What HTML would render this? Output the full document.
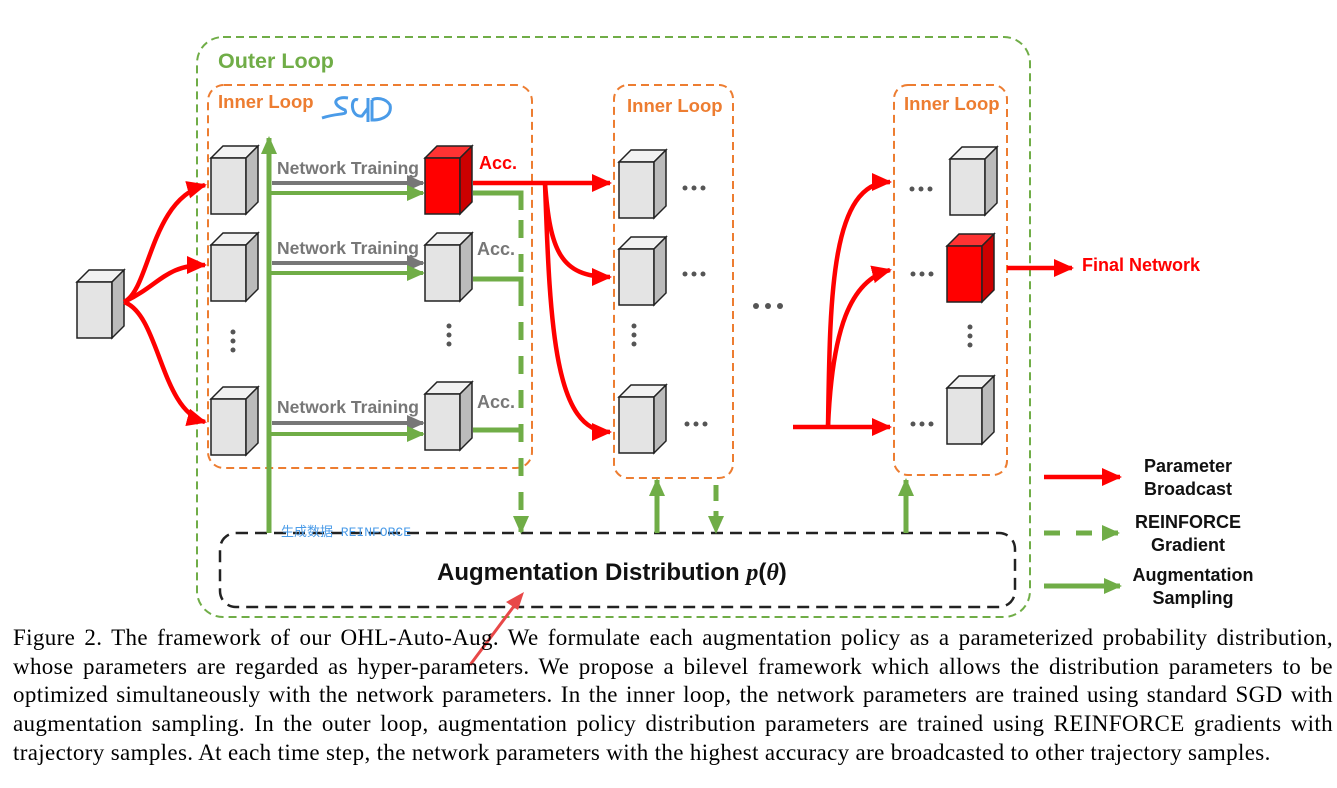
<!DOCTYPE html>
<html><head><meta charset="utf-8"><style>
body{margin:0;width:1337px;height:788px;background:#fff;position:relative;overflow:hidden}
svg{position:absolute;left:0;top:0}
.cap{position:absolute;left:13px;width:1320px;font-family:"Liberation Serif",serif;font-size:23px;letter-spacing:0.35px;line-height:28.7px;top:624px;color:#000}
.cap div{text-align:justify;text-align-last:justify;white-space:nowrap}
.cap div.l{text-align-last:left}
.b{font-family:"Liberation Sans",sans-serif;font-weight:bold}
</style></head><body>
<svg width="1337" height="788" viewBox="0 0 1337 788">
<defs>
<g id="cube"><polygon points="0,12 12,0 47,0 35,12" fill="#f2f2f2" stroke="#222" stroke-width="1.5"/><rect x="0" y="12" width="35" height="56" fill="#e4e4e4" stroke="#222" stroke-width="1.5"/><polygon points="35,12 47,0 47,56 35,68" fill="#bbb" stroke="#222" stroke-width="1.5"/></g>
<g id="rcube"><polygon points="0,12 12,0 47,0 35,12" fill="#f33" stroke="#222" stroke-width="1.5"/><rect x="0" y="12" width="35" height="56" fill="#f00" stroke="#222" stroke-width="1.5"/><polygon points="35,12 47,0 47,56 35,68" fill="#c00" stroke="#222" stroke-width="1.5"/></g>
<marker id="ar" markerUnits="userSpaceOnUse" markerWidth="20" markerHeight="18" refX="18" refY="9" orient="auto"><polygon points="0,0 20,9 0,18" fill="#f00"/></marker>
<marker id="ag" markerUnits="userSpaceOnUse" markerWidth="18" markerHeight="16" refX="16" refY="8" orient="auto"><polygon points="0,0 18,8 0,16" fill="#70ad47"/></marker>
<marker id="agy" markerUnits="userSpaceOnUse" markerWidth="18" markerHeight="16" refX="16" refY="8" orient="auto"><polygon points="0,0 18,8 0,16" fill="#777"/></marker>
</defs>
<rect x="197" y="37" width="833" height="580" rx="26" fill="none" stroke="#70ad47" stroke-width="2" stroke-dasharray="8,5"/>
<rect x="208" y="85" width="324" height="383" rx="16" fill="none" stroke="#ed7d31" stroke-width="2" stroke-dasharray="8,5"/>
<rect x="614" y="85" width="119" height="393" rx="14" fill="none" stroke="#ed7d31" stroke-width="2" stroke-dasharray="8,5"/>
<rect x="894" y="85" width="113" height="390" rx="14" fill="none" stroke="#ed7d31" stroke-width="2" stroke-dasharray="8,5"/>
<rect x="220" y="533" width="795" height="74" rx="16" fill="none" stroke="#222" stroke-width="2.5" stroke-dasharray="12,7"/>
<text x="218" y="68" class="b" font-size="21.5" fill="#70ad47">Outer Loop</text>
<text x="218" y="108" class="b" font-size="18.5" fill="#ed7d31">Inner Loop</text>
<text x="627" y="112" class="b" font-size="18.5" fill="#ed7d31">Inner Loop</text>
<text x="904" y="110" class="b" font-size="18.5" fill="#ed7d31">Inner Loop</text>
<path d="M322,118 C340,112 348,116 345,110 C330,104 335,96 348,98 M358,100 C350,96 350,118 362,116 L368,108 M368,98 L368,122 M372,100 L372,120 C385,120 392,114 390,105 C385,97 375,98 372,100" fill="none" stroke="#4a9be8" stroke-width="3"/>
<use href="#cube" x="77" y="270"/>
<use href="#cube" x="211" y="146"/><use href="#cube" x="211" y="233"/><use href="#cube" x="211" y="387"/>
<use href="#rcube" x="425" y="146"/><use href="#cube" x="425" y="233"/><use href="#cube" x="425" y="382"/>
<use href="#cube" x="619" y="150"/><use href="#cube" x="619" y="237"/><use href="#cube" x="619" y="385"/>
<use href="#cube" x="950" y="147"/><use href="#rcube" x="947" y="234"/><use href="#cube" x="947" y="376"/>
<g fill="#555">
<circle cx="233" cy="332" r="2.5"/><circle cx="233" cy="341" r="2.5"/><circle cx="233" cy="350" r="2.5"/>
<circle cx="449" cy="326" r="2.5"/><circle cx="449" cy="335" r="2.5"/><circle cx="449" cy="344" r="2.5"/>
<circle cx="634" cy="326" r="2.5"/><circle cx="634" cy="335" r="2.5"/><circle cx="634" cy="344" r="2.5"/>
<circle cx="970" cy="327" r="2.5"/><circle cx="970" cy="336" r="2.5"/><circle cx="970" cy="345" r="2.5"/>
<circle cx="685" cy="188" r="2.5"/><circle cx="694" cy="188" r="2.5"/><circle cx="703" cy="188" r="2.5"/>
<circle cx="685" cy="274" r="2.5"/><circle cx="694" cy="274" r="2.5"/><circle cx="703" cy="274" r="2.5"/>
<circle cx="687" cy="424" r="2.5"/><circle cx="696" cy="424" r="2.5"/><circle cx="705" cy="424" r="2.5"/>
<circle cx="912" cy="189" r="2.5"/><circle cx="921" cy="189" r="2.5"/><circle cx="930" cy="189" r="2.5"/>
<circle cx="913" cy="274" r="2.5"/><circle cx="922" cy="274" r="2.5"/><circle cx="931" cy="274" r="2.5"/>
<circle cx="913" cy="424" r="2.5"/><circle cx="922" cy="424" r="2.5"/><circle cx="931" cy="424" r="2.5"/>
<circle cx="756" cy="306" r="3"/><circle cx="768" cy="306" r="3"/><circle cx="780" cy="306" r="3"/>
</g>
<g fill="none" stroke="#f00" stroke-width="4.5">
<path d="M124,302 C150,290 150,200 205,185" marker-end="url(#ar)"/>
<path d="M124,302 C160,285 165,265 205,265" marker-end="url(#ar)"/>
<path d="M124,302 C160,315 160,410 205,422" marker-end="url(#ar)"/>
<path d="M473,183 L610,183" marker-end="url(#ar)"/>
<path d="M545,183 C550,250 560,277 610,277" marker-end="url(#ar)"/>
<path d="M545,183 C550,330 555,432 610,432" marker-end="url(#ar)"/>
<path d="M793,427 L890,427" marker-end="url(#ar)"/>
<path d="M828,427 C830,300 830,182 890,182" marker-end="url(#ar)"/>
<path d="M828,427 C832,330 850,280 890,270" marker-end="url(#ar)"/>
<path d="M1007,268 L1072,268" marker-end="url(#ar)"/>
<path d="M1044,477 L1120,477" marker-end="url(#ar)"/>
</g>
<text x="479" y="169" class="b" font-size="18" fill="#f00">Acc.</text>
<text x="477" y="255" class="b" font-size="18" fill="#777">Acc.</text>
<text x="477" y="408" class="b" font-size="18" fill="#777">Acc.</text>
<text x="1082" y="271" class="b" font-size="18" fill="#f00">Final Network</text>
<g font-size="17.5" fill="#777">
<text x="277" y="174" class="b">Network Training</text>
<text x="277" y="254" class="b">Network Training</text>
<text x="277" y="413" class="b">Network Training</text>
</g>
<g stroke-width="4" fill="none">
<path d="M272,183 L423,183" stroke="#777" marker-end="url(#agy)"/>
<path d="M272,263 L423,263" stroke="#777" marker-end="url(#agy)"/>
<path d="M272,423 L423,423" stroke="#777" marker-end="url(#agy)"/>
<path d="M270,193 L423,193" stroke="#70ad47" marker-end="url(#ag)"/>
<path d="M270,273 L423,273" stroke="#70ad47" marker-end="url(#ag)"/>
<path d="M270,434 L423,434" stroke="#70ad47" marker-end="url(#ag)"/>
<path d="M269,533 L269,138" stroke="#70ad47" stroke-width="5" marker-end="url(#ag)"/>
<path d="M473,193 L521,193 L521,210 M473,279 L521,279 L521,296 M473,430 L521,430" stroke="#70ad47" stroke-width="5"/>
<path d="M521,220 L521,532" stroke="#70ad47" stroke-width="5" stroke-dasharray="18,16" marker-end="url(#ag)"/>
<path d="M657,533 L657,480" stroke="#70ad47" stroke-width="5" marker-end="url(#ag)"/>
<path d="M716,485 L716,532" stroke="#70ad47" stroke-width="5" stroke-dasharray="16,10" marker-end="url(#ag)"/>
<path d="M906,533 L906,480" stroke="#70ad47" stroke-width="5" marker-end="url(#ag)"/>
<path d="M1044,533 L1118,533" stroke="#70ad47" stroke-width="5" stroke-dasharray="16,16" marker-end="url(#ag)"/>
<path d="M1044,586 L1120,586" stroke="#70ad47" stroke-width="5" marker-end="url(#ag)"/>
</g>
<text x="281" y="536" font-family="'Liberation Mono','Noto Sans CJK SC',monospace" font-size="13" fill="#4a9be8">生成数据 REINFORCE</text>
<text x="437" y="580" class="b" font-size="24" fill="#111">Augmentation Distribution <tspan font-family="'Liberation Serif',serif" font-style="italic">p</tspan>(<tspan font-family="'Liberation Serif',serif" font-style="italic">θ</tspan>)</text>
<g class="b" font-size="18" fill="#111" text-anchor="middle">
<text x="1188" y="472">Parameter</text><text x="1188" y="495">Broadcast</text>
<text x="1188" y="528">REINFORCE</text><text x="1188" y="551">Gradient</text>
<text x="1193" y="581">Augmentation</text><text x="1193" y="604">Sampling</text>
</g>
<path d="M470,665 L520,598" stroke="#e84848" stroke-width="3"/><polygon points="524,592 506,602 518,610" fill="#e84848"/>
</svg>
<div class="cap">
<div>Figure 2. The framework of our OHL-Auto-Aug. We formulate each augmentation policy as a parameterized probability distribution,</div>
<div>whose parameters are regarded as hyper-parameters. We propose a bilevel framework which allows the distribution parameters to be</div>
<div>optimized simultaneously with the network parameters. In the inner loop, the network parameters are trained using standard SGD with</div>
<div>augmentation sampling. In the outer loop, augmentation policy distribution parameters are trained using REINFORCE gradients with</div>
<div class="l">trajectory samples. At each time step, the network parameters with the highest accuracy are broadcasted to other trajectory samples.</div>
</div>
</body></html>
